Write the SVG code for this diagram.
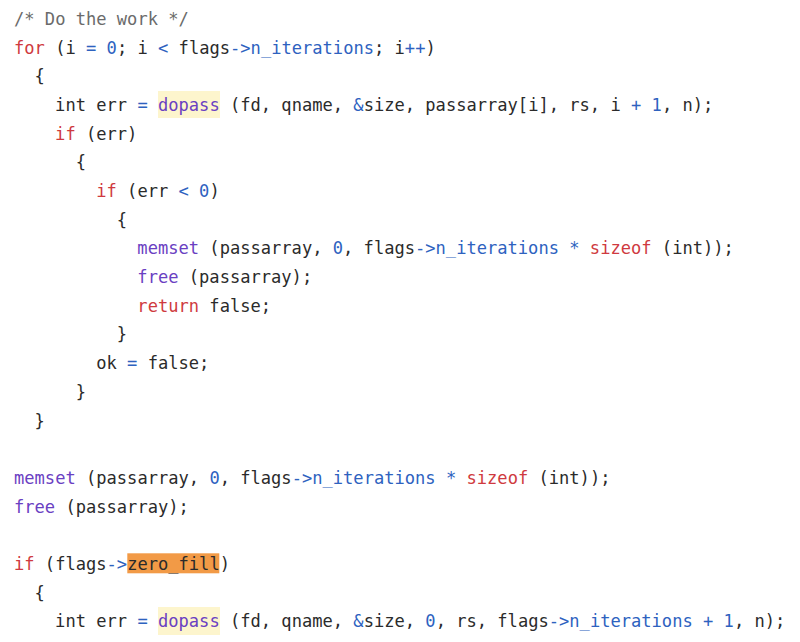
<svg xmlns="http://www.w3.org/2000/svg" width="800" height="642" viewBox="0 0 800 642">
<style>
text{font-family:"DejaVu Sans Mono","Liberation Mono",monospace;font-size:17.08px;fill:#2b2b2b;white-space:pre}
.k{fill:#cf3a40}
.f{fill:#6a40c2}
.o{fill:#2e62bf}
.c{fill:#6b6b6b}
.hl{fill:#fdf5cd}
.hm{fill:#f29a46}
</style>
<rect width="800" height="642" fill="#ffffff"/>
<g id="highlights">
<rect class="hl" x="158" y="91" width="62" height="27"/>
<rect class="hm" x="127.3" y="553.3" width="92" height="20"/>
<rect class="hl" x="158" y="607" width="62" height="28"/>
</g>
<g id="code" xml:space="preserve">
<text x="14" y="25" class="c">/* Do the work */</text>
<text x="14" y="53.68"><tspan class="k">for</tspan> (i <tspan class="o">=</tspan> <tspan class="o">0</tspan>; i <tspan class="o">&lt;</tspan> flags<tspan class="o">-&gt;n_iterations</tspan>; i<tspan class="o">++</tspan>)</text>
<text x="34.56" y="82.36">{</text>
<text x="55.12" y="111.04">int err <tspan class="o">=</tspan> <tspan class="f">dopass</tspan> (fd, qname, <tspan class="o">&amp;</tspan>size, passarray[i], rs, i <tspan class="o">+</tspan> <tspan class="o">1</tspan>, n);</text>
<text x="55.12" y="139.72"><tspan class="k">if</tspan> (err)</text>
<text x="75.68" y="168.4">{</text>
<text x="96.24" y="197.08"><tspan class="k">if</tspan> (err <tspan class="o">&lt;</tspan> <tspan class="o">0</tspan>)</text>
<text x="116.8" y="225.76">{</text>
<text x="137.36" y="254.44"><tspan class="f">memset</tspan> (passarray, <tspan class="o">0</tspan>, flags<tspan class="o">-&gt;n_iterations</tspan> <tspan class="o">*</tspan> <tspan class="k">sizeof</tspan> (int));</text>
<text x="137.36" y="283.12"><tspan class="f">free</tspan> (passarray);</text>
<text x="137.36" y="311.8"><tspan class="k">return</tspan> false;</text>
<text x="116.8" y="340.48">}</text>
<text x="96.24" y="369.16">ok <tspan class="o">=</tspan> false;</text>
<text x="75.68" y="397.84">}</text>
<text x="34.56" y="426.52">}</text>
<text x="14" y="483.88"><tspan class="f">memset</tspan> (passarray, <tspan class="o">0</tspan>, flags<tspan class="o">-&gt;n_iterations</tspan> <tspan class="o">*</tspan> <tspan class="k">sizeof</tspan> (int));</text>
<text x="14" y="512.56"><tspan class="f">free</tspan> (passarray);</text>
<text x="14" y="569.92"><tspan class="k">if</tspan> (flags<tspan class="o">-&gt;</tspan>zero_fill)</text>
<text x="34.56" y="598.6">{</text>
<text x="55.12" y="627.28">int err <tspan class="o">=</tspan> <tspan class="f">dopass</tspan> (fd, qname, <tspan class="o">&amp;</tspan>size, <tspan class="o">0</tspan>, rs, flags<tspan class="o">-&gt;n_iterations</tspan> <tspan class="o">+</tspan> <tspan class="o">1</tspan>, n);</text>
<text x="55.12" y="655.96"><tspan class="k">if</tspan> (err)</text>
</g>
</svg>
